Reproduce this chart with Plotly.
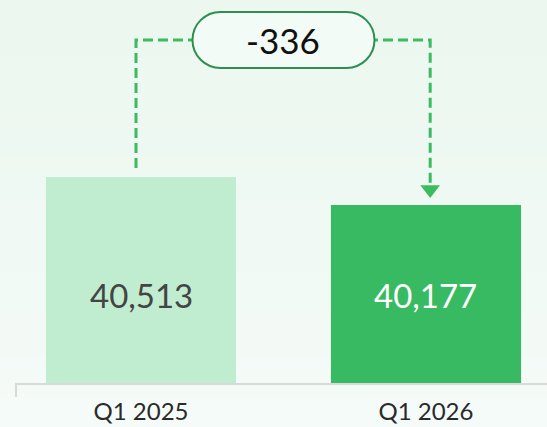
import plotly.graph_objects as go

# data
QUARTERS = ["Q1 2025", "Q1 2026"]
VALUES = [40513, 40177]
VALUE_LABELS = ["40,513", "40,177"]
BAR_COLORS = ["#c0ecd0", "#38ba62"]
LABEL_COLORS = ["#444444", "#ffffff"]
DELTA = VALUES[1] - VALUES[0]

FONT = "Lato"
DASH_GREEN = "#3dbb60"

fig = go.Figure()

fig.add_trace(go.Bar(
    x=[0, 1], y=VALUES,
    marker=dict(color=BAR_COLORS, line=dict(width=0)),
    width=0.667, hoverinfo="skip",
))

# connector: up from bar 1, across, down to bar 2 (units per px ~12)
top_level = max(VALUES) + 1644
left_x, right_x = 0 - 0.0175, 1 + 0.0147
fig.add_trace(go.Scatter(
    x=[left_x, left_x, right_x, right_x],
    y=[VALUES[0] + 108, top_level, top_level, VALUES[1] + 200],
    mode="lines", line=dict(color=DASH_GREEN, width=3, dash="10px,5px"),
    hoverinfo="skip",
))
fig.add_trace(go.Scatter(
    x=[right_x], y=[VALUES[1] + 186],
    mode="markers",
    marker=dict(symbol="triangle-down", size=17, color=DASH_GREEN, line=dict(width=0)),
    hoverinfo="skip",
))

# pill box for the delta
k = 15.46
pill = (
    "M -63,28 L 63,28 "
    f"C {63 + k},28 91,{k} 91,0 "
    f"C 91,{-k} {63 + k},-28 63,-28 "
    "L -63,-28 "
    f"C {-63 - k},-28 -91,{-k} -91,0 "
    f"C -91,{k} {-63 - k},28 -63,28 Z"
)
shapes = [dict(
    type="path", xref="x", yref="y", xsizemode="pixel", ysizemode="pixel",
    xanchor=0.5, yanchor=top_level, path=pill,
    fillcolor="#f2fbf5", line=dict(color="#2f8f4f", width=2), layer="above",
)]

# soft vertical gradient background
top_c, bot_c = (235, 247, 239), (245, 251, 248)
n = 30
y_lo, y_hi = -44 / 381, 1 + 2 / 381
for i in range(n):
    t = i / (n - 1)
    c = tuple(round(top_c[j] + (bot_c[j] - top_c[j]) * t) for j in range(3))
    y1 = y_hi - (y_hi - y_lo) * i / n
    y0 = y_hi - (y_hi - y_lo) * (i + 1) / n
    shapes.append(dict(
        type="rect", xref="paper", yref="paper", x0=-0.05, x1=1.05, y0=y0 - 0.002, y1=y1,
        fillcolor="rgb(%d,%d,%d)" % c, line=dict(width=0), layer="below",
    ))

# small tick at the left end of the axis
shapes.append(dict(
    type="line", xref="paper", yref="paper", x0=0, x1=0, y0=0, y1=-14 / 381,
    line=dict(color="#d9d9d9", width=2),
))

annotations = [dict(
    x=0.5, y=top_level, xref="x", yref="y", text=str(DELTA), showarrow=False,
    font=dict(family=FONT, size=35, color="#111111"),
)]
for i, (lab, col) in enumerate(zip(VALUE_LABELS, LABEL_COLORS)):
    annotations.append(dict(
        x=i, y=0.23, xref="x", yref="paper", yanchor="middle", text=lab, showarrow=False,
        font=dict(family=FONT, size=33, color=col),
    ))

fig.update_layout(
    width=547, height=427,
    margin=dict(l=16, r=0, t=2, b=44, autoexpand=False),
    paper_bgcolor="#eff8f2", plot_bgcolor="rgba(0,0,0,0)",
    showlegend=False, shapes=shapes, annotations=annotations,
    font=dict(family=FONT, color="#222222"),
    xaxis=dict(
        range=[-0.4386, 1.4246], tickmode="array", tickvals=[0, 1], ticktext=QUARTERS,
        showline=True, linecolor="#d9d9d9", linewidth=2, showgrid=False, zeroline=False,
        ticks="", ticklabelstandoff=6, automargin=False,
        tickfont=dict(family=FONT, size=24, color="#2a2a2a"), fixedrange=True,
    ),
    yaxis=dict(range=[38040, 42612], visible=False, fixedrange=True, automargin=False),
)

fig.write_html(
    "out.html",
    config={"displayModeBar": False},
    post_script="document.body.style.margin='0';",
)
